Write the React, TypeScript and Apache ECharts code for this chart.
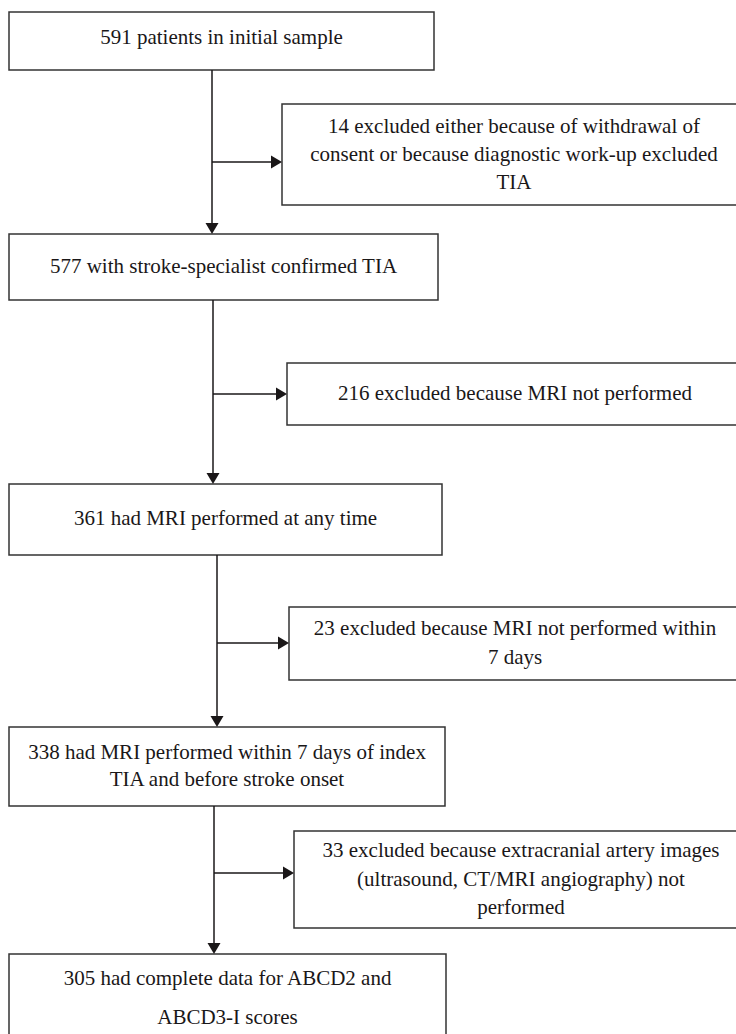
import React, { useEffect, useRef } from "react";
import * as echarts from "echarts";

// Flow stages (main column) and exclusions (side boxes)
const stageLines: string[][] = [
  ["591 patients in initial sample"],
  ["577 with stroke-specialist confirmed TIA"],
  ["361 had MRI performed at any time"],
  ["338 had MRI performed within 7 days of index", "TIA and before stroke onset"],
  ["305 had complete data for ABCD2 and", "ABCD3-I scores"],
];
const exclusionLines: string[][] = [
  [
    "14 excluded either because of withdrawal of",
    "consent or because diagnostic work-up excluded",
    "TIA",
  ],
  ["216 excluded because MRI not performed"],
  ["23 excluded because MRI not performed within", "7 days"],
  [
    "33 excluded because extracranial artery images",
    "(ultrasound, CT/MRI angiography) not",
    "performed",
  ],
];

// Layout (pixels)
const stageBoxes = [
  { x: 9, y: 12, w: 425, h: 58, textY: 37, lh: 28 },
  { x: 9, y: 234, w: 429, h: 66, textY: 266, lh: 28 },
  { x: 9, y: 484, w: 433, h: 71, textY: 518, lh: 28 },
  { x: 9, y: 727, w: 436, h: 79, textY: 752, lh: 27 },
  { x: 9, y: 954, w: 437, h: 110, textY: 978, lh: 39 },
];
const exclusionBoxes = [
  { x: 282, y: 104, w: 464, h: 101, textY: 126, lh: 28, cx: 514 },
  { x: 287, y: 363, w: 460, h: 62, textY: 393, lh: 28, cx: 515 },
  { x: 289, y: 607, w: 460, h: 73, textY: 628, lh: 29, cx: 515 },
  { x: 294, y: 831, w: 460, h: 97, textY: 850, lh: 28.5, cx: 521 },
];
const connectors = [
  { x: 212, branchY: 162 },
  { x: 213, branchY: 394 },
  { x: 217, branchY: 643 },
  { x: 214, branchY: 873 },
];

const FONT = '"Liberation Serif", "Times New Roman", serif';
const FONT_SIZE = 21;
const TEXT_COLOR = "#1a1718";
const LINE_COLOR = "#1a1718";
const BOX_COLOR = "#333333";

function buildGraphics() {
  const els: any[] = [];
  const addBox = (b: any, lines: string[], cx: number) => {
    els.push({
      type: "rect",
      shape: { x: b.x, y: b.y, width: b.w, height: b.h },
      style: { fill: "#fff", stroke: BOX_COLOR, lineWidth: 1.5 },
    });
    lines.forEach((t, i) => {
      els.push({
        type: "text",
        x: cx,
        y: b.textY + i * b.lh,
        style: {
          text: t,
          fontFamily: FONT,
          fontSize: FONT_SIZE,
          fill: TEXT_COLOR,
          textAlign: "center",
          textVerticalAlign: "middle",
        },
      });
    });
  };
  stageBoxes.forEach((b, i) => addBox(b, stageLines[i], b.x + b.w / 2));
  exclusionBoxes.forEach((b, i) => addBox(b, exclusionLines[i], b.cx));

  connectors.forEach((c, i) => {
    const from = stageBoxes[i];
    const to = stageBoxes[i + 1];
    const ex = exclusionBoxes[i];
    const y0 = from.y + from.h;
    const y1 = to.y;
    els.push({
      type: "line",
      shape: { x1: c.x, y1: y0, x2: c.x, y2: y1 - 10 },
      style: { stroke: LINE_COLOR, lineWidth: 1.5 },
    });
    els.push({
      type: "polygon",
      shape: {
        points: [
          [c.x - 6.5, y1 - 11],
          [c.x + 6.5, y1 - 11],
          [c.x, y1],
        ],
      },
      style: { fill: LINE_COLOR },
    });
    els.push({
      type: "line",
      shape: { x1: c.x, y1: c.branchY, x2: ex.x - 10, y2: c.branchY },
      style: { stroke: LINE_COLOR, lineWidth: 1.5 },
    });
    els.push({
      type: "polygon",
      shape: {
        points: [
          [ex.x - 11, c.branchY - 6.5],
          [ex.x - 11, c.branchY + 6.5],
          [ex.x, c.branchY],
        ],
      },
      style: { fill: LINE_COLOR },
    });
  });
  return els;
}

export default function App() {
  const ref = useRef<HTMLDivElement>(null);
  useEffect(() => {
    document.body.style.margin = "0";
    if (!ref.current) return;
    const chart = echarts.init(ref.current, null, { renderer: "svg" });
    chart.setOption({
      animation: false,
      backgroundColor: "#ffffff",
      graphic: { elements: buildGraphics() },
    });
    return () => chart.dispose();
  }, []);
  return <div ref={ref} style={{ width: 736, height: 1034 }} />;
}
